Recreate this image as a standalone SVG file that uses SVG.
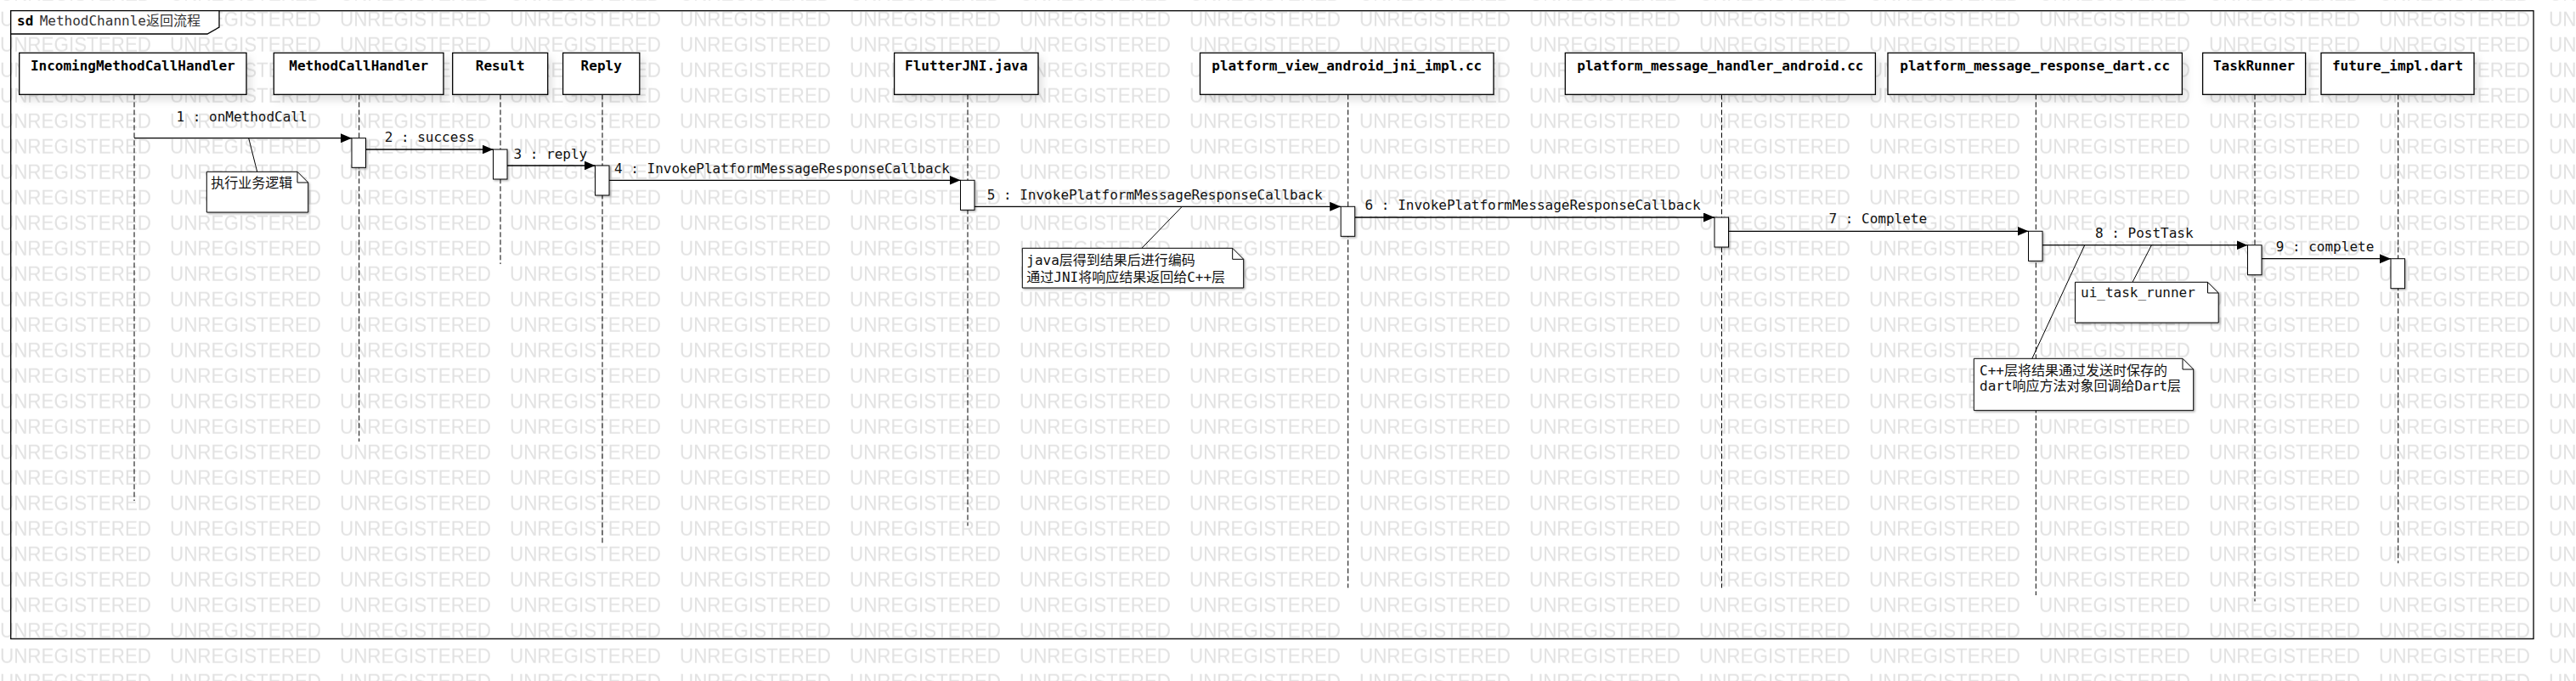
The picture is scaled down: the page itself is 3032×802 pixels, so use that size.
<svg xmlns="http://www.w3.org/2000/svg" width="3032" height="802" viewBox="0 0 3032 802">
<defs>
<style>
.f{font-family:"DejaVu Sans Mono","Noto Sans CJK SC",monospace}
.box{fill:#fff;stroke:#000;stroke-width:1.3}
.lt{font-size:16px;font-weight:bold;text-anchor:middle;fill:#000}
.life{stroke:#000;stroke-width:1;stroke-dasharray:6 3;fill:none}
.msg{stroke:#000;stroke-width:1.3;fill:none;marker-end:url(#ah)}
.ml{font-size:16px;fill:#111}
.act{fill:#fff;stroke:#000;stroke-width:1}
.note{fill:#fff;stroke:#000;stroke-width:1}
.fold{fill:none;stroke:#000;stroke-width:1}
.nt{font-size:16px;fill:#111}
.anc{stroke:#000;stroke-width:1;fill:none}
.wm{font-family:"Liberation Sans",Arial,sans-serif;font-size:24px;fill:#e2e2e2}
</style>
<pattern id="wmp" patternUnits="userSpaceOnUse" x="0" y="-19.3" width="200" height="30">
<text class="wm" x="0" y="20" textLength="178" lengthAdjust="spacingAndGlyphs">UNREGISTERED</text>
</pattern>
<marker id="ah" markerUnits="userSpaceOnUse" markerWidth="14" markerHeight="12" refX="13" refY="5.5" orient="auto">
<path d="M0,0 L13,5.5 L0,11 Z" fill="#000"/>
</marker>
<filter id="bsh" x="-20%" y="-40%" width="150%" height="200%">
<feDropShadow dx="4" dy="6" stdDeviation="5" flood-color="#000" flood-opacity="0.12"/>
</filter>
<filter id="ssh" x="-20%" y="-20%" width="150%" height="150%">
<feDropShadow dx="1.5" dy="1.5" stdDeviation="0.8" flood-color="#000" flood-opacity="0.3"/>
</filter>
</defs>

<rect x="0" y="0" width="3032" height="802" fill="#fff"/>
<rect x="0" y="0" width="3032" height="802" fill="url(#wmp)"/>

<g id="frame">
<rect x="12.7" y="12.7" width="2969.3" height="739.6" fill="none" stroke="#000" stroke-width="1.3"/>
<polygon points="12.7,12.7 258,12.7 258,32 244,40 12.7,40" fill="#fff" stroke="#000" stroke-width="1.3"/>
<text class="f" x="20" y="30" font-size="16" font-weight="bold" fill="#000">sd</text>
<text class="f" x="46.7" y="30" font-size="16" fill="#333">MethodChannle返回流程</text>
</g>

<g id="lifelines">
<g id="IncomingMethodCallHandler">
<line class="life" x1="158" y1="111.3" x2="158" y2="590"/>
<rect class="box" filter="url(#bsh)" x="22.7" y="62.3" width="267.3" height="49"/>
<text class="f lt" x="156.3" y="82.5">IncomingMethodCallHandler</text>
</g>
<g id="MethodCallHandler">
<line class="life" x1="422.7" y1="111.3" x2="422.7" y2="520"/>
<rect class="box" filter="url(#bsh)" x="322.3" y="62.3" width="199.7" height="49"/>
<text class="f lt" x="422.2" y="82.5">MethodCallHandler</text>
</g>
<g id="Result">
<line class="life" x1="589" y1="111.3" x2="589" y2="311"/>
<rect class="box" filter="url(#bsh)" x="532.7" y="62.3" width="112" height="49"/>
<text class="f lt" x="588.7" y="82.5">Result</text>
</g>
<g id="Reply">
<line class="life" x1="709" y1="111.3" x2="709" y2="641"/>
<rect class="box" filter="url(#bsh)" x="662.6" y="62.3" width="90.2" height="49"/>
<text class="f lt" x="707.7" y="82.5">Reply</text>
</g>
<g id="FlutterJNI">
<line class="life" x1="1139" y1="111.3" x2="1139" y2="619.3"/>
<rect class="box" filter="url(#bsh)" x="1052.6" y="62.3" width="169.4" height="49"/>
<text class="f lt" x="1137.3" y="82.5">FlutterJNI.java</text>
</g>
<g id="platform_view_android_jni_impl">
<line class="life" x1="1586.7" y1="111.3" x2="1586.7" y2="692.3"/>
<rect class="box" filter="url(#bsh)" x="1412.5" y="62.3" width="345.5" height="49"/>
<text class="f lt" x="1585.3" y="82.5">platform_view_android_jni_impl.cc</text>
</g>
<g id="platform_message_handler_android">
<line class="life" x1="2026.5" y1="111.3" x2="2026.5" y2="692.3"/>
<rect class="box" filter="url(#bsh)" x="1842.3" y="62.3" width="365.1" height="49"/>
<text class="f lt" x="2024.9" y="82.5">platform_message_handler_android.cc</text>
</g>
<g id="platform_message_response_dart">
<line class="life" x1="2396.3" y1="111.3" x2="2396.3" y2="701"/>
<rect class="box" filter="url(#bsh)" x="2222" y="62.3" width="346.4" height="49"/>
<text class="f lt" x="2395.2" y="82.5">platform_message_response_dart.cc</text>
</g>
<g id="TaskRunner">
<line class="life" x1="2654" y1="111.3" x2="2654" y2="708.3"/>
<rect class="box" filter="url(#bsh)" x="2592.6" y="62.3" width="121" height="49"/>
<text class="f lt" x="2653.1" y="82.5">TaskRunner</text>
</g>
<g id="future_impl">
<line class="life" x1="2822.7" y1="111.3" x2="2822.7" y2="663.3"/>
<rect class="box" filter="url(#bsh)" x="2732" y="62.3" width="180" height="49"/>
<text class="f lt" x="2822" y="82.5">future_impl.dart</text>
</g>
</g>

<g id="connectors">
<line class="msg" x1="158" y1="162.7" x2="414" y2="162.7"/>
<text class="f ml" x="207.5" y="143">1 : onMethodCall</text>
<line class="msg" x1="430.5" y1="176" x2="580.5" y2="176"/>
<text class="f ml" x="452.7" y="167.3">2 : success</text>
<line class="msg" x1="597" y1="195" x2="700.5" y2="195"/>
<text class="f ml" x="604.5" y="186.7">3 : reply</text>
<line class="msg" x1="717" y1="212.3" x2="1130.5" y2="212.3"/>
<text class="f ml" x="723" y="204">4 : InvokePlatformMessageResponseCallback</text>
<line class="msg" x1="1147" y1="243.3" x2="1578.2" y2="243.3"/>
<text class="f ml" x="1161.7" y="235">5 : InvokePlatformMessageResponseCallback</text>
<line class="msg" x1="1594.7" y1="256" x2="2018" y2="256"/>
<text class="f ml" x="1606.6" y="247.3">6 : InvokePlatformMessageResponseCallback</text>
<line class="msg" x1="2034.5" y1="272.3" x2="2387.5" y2="272.3"/>
<text class="f ml" x="2152.5" y="263">7 : Complete</text>
<line class="msg" x1="2404" y1="288.7" x2="2645.5" y2="288.7"/>
<text class="f ml" x="2466" y="280">8 : PostTask</text>
<line class="msg" x1="2662" y1="304.7" x2="2814" y2="304.7"/>
<text class="f ml" x="2678.7" y="296">9 : complete</text>
<line class="anc" x1="292.7" y1="162.7" x2="302.7" y2="202.3"/>
<line class="anc" x1="1391.3" y1="243.3" x2="1343.9" y2="292.3"/>
<line class="anc" x1="2532.4" y1="288.7" x2="2510" y2="332.3"/>
<line class="anc" x1="2453.7" y1="288.7" x2="2391.8" y2="422.3"/>
</g>

<g id="activations">
<rect class="act" filter="url(#ssh)" x="414" y="162.7" width="16.5" height="34.6"/>
<rect class="act" filter="url(#ssh)" x="580.5" y="176" width="16.5" height="35"/>
<rect class="act" filter="url(#ssh)" x="700.5" y="195" width="16.5" height="35"/>
<rect class="act" filter="url(#ssh)" x="1130.5" y="212.3" width="16.5" height="35"/>
<rect class="act" filter="url(#ssh)" x="1578.2" y="243.3" width="16.5" height="35"/>
<rect class="act" filter="url(#ssh)" x="2018" y="256" width="16.5" height="35"/>
<rect class="act" filter="url(#ssh)" x="2387.5" y="272.3" width="16.5" height="35"/>
<rect class="act" filter="url(#ssh)" x="2645.5" y="288.7" width="16.5" height="35"/>
<rect class="act" filter="url(#ssh)" x="2814" y="304.7" width="16.5" height="35"/>
</g>

<g id="note1">
<path class="note" filter="url(#ssh)" d="M243.3,202.3 H350 L362.7,215 V250 H243.3 Z"/>
<path class="fold" d="M350,202.3 V215 H362.7"/>
<text class="f nt" x="248.3" y="221">执行业务逻辑</text>
</g>
<g id="note2">
<path class="note" filter="url(#ssh)" d="M1203.3,292.3 H1450.7 L1463.7,305.3 V339 H1203.3 Z"/>
<path class="fold" d="M1450.7,292.3 V305.3 H1463.7"/>
<text class="f nt" x="1208.3" y="312.3" font-size="17.6">java层得到结果后进行编码</text>
<text class="f nt" x="1208.3" y="331.7" font-size="17.6">通过JNI将响应结果返回给C++层</text>
</g>
<g id="note3">
<path class="note" filter="url(#ssh)" d="M2442.5,332.3 H2598.5 L2611.2,345 V380 H2442.5 Z"/>
<path class="fold" d="M2598.5,332.3 V345 H2611.2"/>
<text class="f nt" x="2449" y="350">ui_task_runner</text>
</g>
<g id="note4">
<path class="note" filter="url(#ssh)" d="M2323.3,422.3 H2569 L2581.7,435 V483.3 H2323.3 Z"/>
<path class="fold" d="M2569,422.3 V435 H2581.7"/>
<text class="f nt" x="2330" y="441.7">C++层将结果通过发送时保存的</text>
<text class="f nt" x="2330" y="460">dart响应方法对象回调给Dart层</text>
</g>
</svg>
